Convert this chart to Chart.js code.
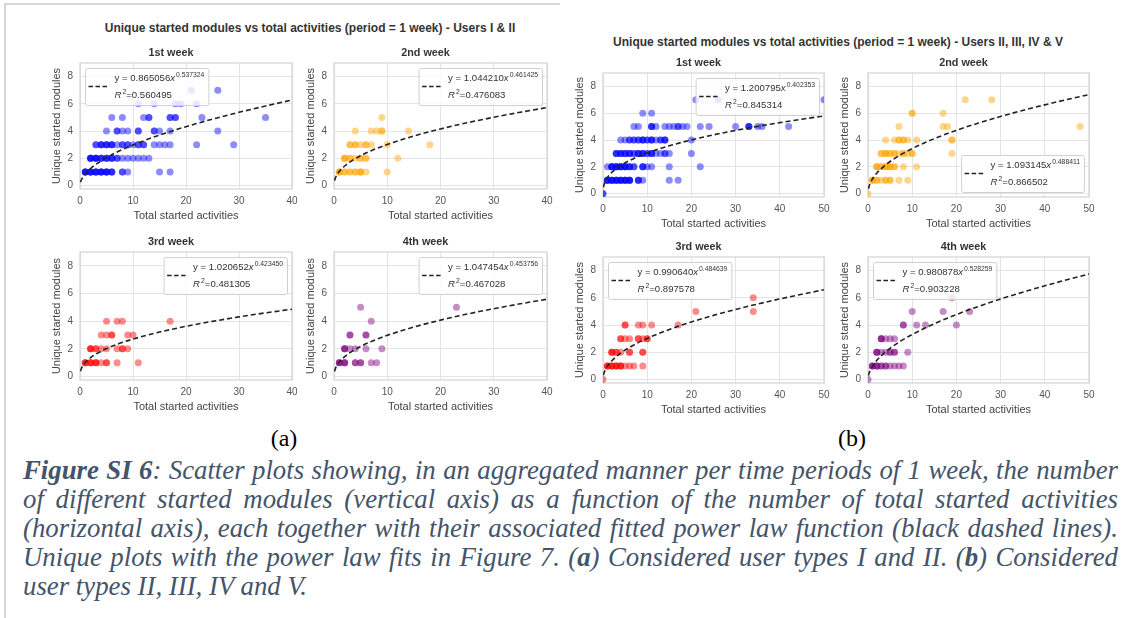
<!DOCTYPE html>
<html>
<head>
<meta charset="utf-8">
<script src="https://cdn.jsdelivr.net/npm/chart.js@4.4.1/dist/chart.umd.min.js"></script>
<style>
  body { margin: 0; width: 1132px; height: 618px; background: #fff; position: relative; overflow: hidden; font-family: 'Liberation Sans', Arial, sans-serif; }
  .frame { position: absolute; left: 4px; top: 3px; width: 554px; height: 640px; border-left: 2px solid #d6d6d6; border-top: 2px solid #d6d6d6; }
  .suptitle { position: absolute; font-weight: bold; font-size: 12px; color: #333; white-space: nowrap; transform: translateX(-50%); }
  canvas { position: absolute; }
  .plabel { position: absolute; font-family: 'Liberation Serif', serif; font-size: 24px; line-height: 28px; color: #000; transform: translateX(-50%); }
  .caption { position: absolute; left: 23px; top: 456px; width: 1095px; font-family: 'Liberation Serif', serif; font-style: italic; font-size: 26.8px; line-height: 29px; color: #44546a; }
  .caption div { white-space: nowrap; text-align: justify; text-align-last: justify; }
  .caption div.last { text-align: left; text-align-last: left; }
</style>
</head>
<body>
<div class="frame"></div>
<div class="suptitle" style="left:310px; top:21px;">Unique started modules vs total activities (period = 1 week) - Users I &amp; II</div>
<div class="suptitle" style="left:838px; top:35px;">Unique started modules vs total activities (period = 1 week) - Users II, III, IV &amp; V</div>
<div class="plabel" style="left:284px; top:424px;">(a)</div>
<div class="plabel" style="left:852px; top:424px;">(b)</div>
<div class="caption">
  <div><b>Figure SI 6</b>: Scatter plots showing, in an aggregated manner per time periods of 1 week, the number</div>
  <div>of different started modules (vertical axis) as a function of the number of total started activities</div>
  <div>(horizontal axis), each together with their associated fitted power law function (black dashed lines).</div>
  <div>Unique plots with the power law fits in Figure 7. (<b>a</b>) Considered user types I and II. (<b>b</b>) Considered</div>
  <div class="last">user types II, III, IV and V.</div>
</div>
<script>
Chart.defaults.font.family = "'Liberation Sans', Arial, sans-serif";

const weekTitles = ['1st week', '2nd week', '3rd week', '4th week'];
const yTicks = [0, 2, 4, 6, 8];
const xTicksA = [0, 10, 20, 30, 40];
const xTicksB = [0, 10, 20, 30, 40, 50];

// [total started activities, unique started modules, users at that spot]
const ptsA1 = [
  [21,7,1],[26,7,1],
  [11,6,1],[14,6,1],[18,6,1],[19,6,1],[22,6,1],
  [6,5,1],[8,5,1],[12,5,1],[13,5,2],[17,5,2],[18,5,2],[23,5,1],[35,5,1],
  [5,4,1],[7,4,2],[8,4,1],[9,4,1],[11,4,2],[14,4,2],[15,4,1],[17,4,1],[26,4,1],
  [3,3,2],[4,3,3],[5,3,3],[6,3,3],[7,3,1],[8,3,2],[9,3,2],[10,3,1],[11,3,2],[12,3,2],[14,3,1],[15,3,1],[16,3,1],[17,3,1],[22,3,1],[29,3,1],
  [2,2,4],[3,2,4],[4,2,3],[5,2,3],[6,2,3],[7,2,2],[8,2,1],[9,2,1],[10,2,1],[11,2,1],[12,2,1],[13,2,1],
  [1,1,4],[2,1,4],[3,1,4],[4,1,4],[5,1,4],[6,1,3],[8,1,2],[9,1,1],[15,1,1],[17,1,1]
];
const ptsA2 = [
  [9,5,1],
  [4,4,1],[7,4,1],[8,4,1],[9,4,2],[14,4,1],
  [3,3,2],[4,3,2],[5,3,1],[6,3,2],[7,3,1],[10,3,1],[18,3,1],
  [2,2,3],[3,2,2],[4,2,1],[5,2,2],[6,2,2],[12,2,1],
  [1,1,3],[2,1,2],[3,1,2],[4,1,2],[5,1,3],[6,1,1],[10,1,1]
];
const ptsA3 = [
  [5,4,1],[7,4,1],[8,4,1],[17,4,1],
  [4,3,1],[5,3,1],[6,3,2],[9,3,1],[10,3,1],
  [2,2,3],[3,2,2],[4,2,1],[5,2,1],[7,2,1],[8,2,2],[9,2,1],
  [1,1,3],[2,1,3],[3,1,3],[4,1,1],[5,1,2],[7,1,1],[11,1,1]
];
const ptsA4 = [
  [5,5,1],[23,5,1],[7,4,1],
  [3,3,2],[6,3,2],
  [2,2,3],[3,2,1],[4,2,1],[6,2,1],[9,2,1],
  [1,1,3],[2,1,3],[4,1,2],[5,1,2],[7,1,1],[8,1,1]
];
const ptsB1 = [
  [21,7,1],[26,7,1],[50,7,1],
  [9,6,1],[11,6,1],
  [7,5,1],[8,5,1],[11,5,3],[12,5,1],[14,5,1],[15,5,1],[16,5,1],[17,5,2],[18,5,1],[19,5,1],[22,5,1],[24,5,1],[30,5,1],[33,5,3],[35,5,1],[36,5,1],[42,5,1],
  [4,4,1],[5,4,1],[6,4,2],[7,4,2],[8,4,2],[9,4,3],[10,4,2],[11,4,3],[12,4,1],[13,4,2],[14,4,3],[20,4,1],
  [3,3,3],[4,3,3],[5,3,3],[6,3,3],[7,3,2],[8,3,3],[9,3,3],[10,3,2],[11,3,3],[12,3,1],[13,3,1],[14,3,2],[15,3,1],[20,3,1],
  [1,2,1],[2,2,4],[3,2,4],[4,2,4],[5,2,4],[6,2,3],[7,2,2],[9,2,3],[10,2,1],[11,2,1],[15,2,1],[22,2,1],
  [1,1,4],[2,1,4],[3,1,4],[4,1,4],[5,1,4],[6,1,4],[8,1,3],[9,1,1],[15,1,1],[17,1,1],
  [0,0,2]
];
const ptsB2 = [
  [22,7,1],[28,7,1],
  [10,6,2],[17,6,1],
  [7,5,1],[17,5,1],[18,5,1],[48,5,1],
  [4,4,1],[6,4,1],[7,4,2],[8,4,2],[9,4,1],[11,4,1],[19,4,2],
  [3,3,2],[4,3,3],[5,3,2],[6,3,2],[7,3,1],[8,3,2],[9,3,1],[10,3,2],[19,3,1],
  [2,2,3],[3,2,2],[4,2,3],[5,2,3],[6,2,2],[8,2,1],[11,2,1],
  [1,1,3],[2,1,2],[3,1,1],[4,1,2],[5,1,2],[7,1,1],[9,1,1],
  [0,0,1]
];
const ptsB3 = [
  [34,6,1],[21,5,1],[34,5,1],
  [5,4,2],[8,4,1],[9,4,1],[11,4,1],[17,4,1],
  [4,3,2],[5,3,1],[6,3,1],[8,3,2],[9,3,1],[10,3,2],
  [2,2,3],[3,2,2],[4,2,1],[6,2,2],[9,2,2],
  [1,1,3],[2,1,3],[3,1,3],[4,1,3],[5,1,1],[6,1,1],[7,1,1],[9,1,1],
  [0,0,1]
];
const ptsB4 = [
  [19,6,1],[10,5,1],[17,5,1],[23,5,1],
  [8,4,2],[11,4,1],[13,4,1],[20,4,1],
  [3,3,3],[4,3,1],[5,3,1],[6,3,1],
  [2,2,3],[3,2,1],[4,2,1],[5,2,2],[6,2,2],[9,2,1],
  [1,1,3],[2,1,3],[3,1,2],[4,1,2],[5,1,1],[6,1,1],[7,1,1],[8,1,1],
  [0,0,1]
];

// fitted power-law curves
const fitXA = [0.1, 0.25, 0.5, 1, 2, 4, 7, 10, 15, 20, 25, 30, 35, 40];
const fitXB = [0.1, 0.25, 0.5, 1, 2, 4, 7, 10, 15, 20, 25, 30, 35, 40, 45, 50];
const fitA1 = [0.251, 0.411, 0.596, 0.865, 1.255, 1.822, 2.461, 2.981, 3.707, 4.326, 4.877, 5.379, 5.844, 6.279];
const fitA2 = [0.361, 0.551, 0.758, 1.044, 1.438, 1.980, 2.563, 3.021, 3.643, 4.160, 4.612, 5.016, 5.386, 5.728];
const fitA3 = [0.385, 0.567, 0.761, 1.021, 1.369, 1.836, 2.327, 2.706, 3.213, 3.629, 3.989, 4.309, 4.600, 4.867];
const fitA4 = [0.368, 0.558, 0.765, 1.047, 1.435, 1.965, 2.533, 2.978, 3.579, 4.078, 4.513, 4.902, 5.258, 5.586];
const fitB1 = [0.476, 0.687, 0.909, 1.201, 1.587, 2.098, 2.627, 3.033, 3.570, 4.008, 4.385, 4.718, 5.020, 5.297, 5.554, 5.795];
const fitB2 = [0.355, 0.555, 0.779, 1.093, 1.534, 2.152, 2.828, 3.366, 4.103, 4.722, 5.266, 5.756, 6.206, 6.624, 7.017, 7.387];
const fitB3 = [0.325, 0.506, 0.708, 0.991, 1.386, 1.939, 2.544, 3.024, 3.681, 4.231, 4.714, 5.150, 5.549, 5.920, 6.268, 6.596];
const fitB4 = [0.291, 0.472, 0.680, 0.981, 1.415, 2.040, 2.742, 3.310, 4.101, 4.774, 5.371, 5.915, 6.416, 6.885, 7.327, 7.747];

const fitCoef = ['0.865056', '1.044210', '1.020652', '1.047454', '1.200795', '1.093145', '0.990640', '0.980878'];
const fitExpo = ['0.537324', '0.461425', '0.423450', '0.453756', '0.402353', '0.488411', '0.484639', '0.528259'];
const fitR2 = ['0.560495', '0.476083', '0.481305', '0.467028', '0.845314', '0.866502', '0.897578', '0.903228'];

const BLUE = 'rgba(0,0,255,0.45)';
const ORANGE = 'rgba(255,165,0,0.45)';
const RED = 'rgba(255,0,0,0.45)';
const PURPLE = 'rgba(128,0,128,0.45)';

const panels = [
  { box: [80, 63, 292, 189],   title: 0, pts: ptsA1, fx: fitXA, fy: fitA1, color: BLUE,   xMax: 40, xt: xTicksA, leg: 'ul' },
  { box: [334, 63, 547, 189],  title: 1, pts: ptsA2, fx: fitXA, fy: fitA2, color: ORANGE, xMax: 40, xt: xTicksA, leg: 'ur' },
  { box: [80, 252, 292, 380],  title: 2, pts: ptsA3, fx: fitXA, fy: fitA3, color: RED,    xMax: 40, xt: xTicksA, leg: 'ur' },
  { box: [334, 252, 547, 380], title: 3, pts: ptsA4, fx: fitXA, fy: fitA4, color: PURPLE, xMax: 40, xt: xTicksA, leg: 'ur' },
  { box: [603, 73, 824, 197],  title: 0, pts: ptsB1, fx: fitXB, fy: fitB1, color: BLUE,   xMax: 50, xt: xTicksB, leg: 'ur' },
  { box: [868, 73, 1089, 197], title: 1, pts: ptsB2, fx: fitXB, fy: fitB2, color: ORANGE, xMax: 50, xt: xTicksB, leg: 'lr' },
  { box: [603, 257, 824, 383], title: 2, pts: ptsB3, fx: fitXB, fy: fitB3, color: RED,    xMax: 50, xt: xTicksB, leg: 'ul' },
  { box: [868, 257, 1089, 383], title: 3, pts: ptsB4, fx: fitXB, fy: fitB4, color: PURPLE, xMax: 50, xt: xTicksB, leg: 'ul' }
];

function expand(pts) {
  const out = [];
  pts.forEach(([x, y, n]) => {
    for (let i = 0; i < n; i++) out.push({ x, y });
  });
  return out;
}

const framePlugin = {
  id: 'frame',
  beforeDatasetsDraw(chart) {
    const { ctx, chartArea: a } = chart;
    ctx.save();
    ctx.strokeStyle = '#d4d4d4';
    ctx.lineWidth = 1.2;
    ctx.strokeRect(a.left, a.top, a.width, a.height);
    ctx.restore();
  }
};

const FONT = "'Liberation Sans', Arial, sans-serif";

// matplotlib-like legend box with the fitted equation and R^2
const fitLegend = {
  id: 'fitLegend',
  afterDatasetsDraw(chart, args, opts) {
    const { ctx, chartArea: a } = chart;
    const fs = 9.6, ss = 6.8;
    ctx.save();
    ctx.font = `${fs}px ${FONT}`;
    const wA = ctx.measureText('y = ' + opts.coef).width;
    const wEq = ctx.measureText('=' + opts.r2).width;
    ctx.font = `italic ${fs}px ${FONT}`;
    const wX = ctx.measureText('x').width;
    const wR = ctx.measureText('R').width;
    ctx.font = `${ss}px ${FONT}`;
    const wE = ctx.measureText(opts.expo).width;
    const w2 = ctx.measureText('2').width;
    const textW = Math.max(wA + wX + 1 + wE, wR + 1 + w2 + wEq);

    const pad = 3.5, handle = 19, gap = 7;
    const bw = pad + handle + gap + textW + 4;
    const bh = 37;
    const bx = opts.pos[1] === 'l' ? a.left + 5 : a.right - 5 - bw;
    const by = opts.pos[0] === 'u' ? a.top + 5 : a.bottom - 5 - bh;

    ctx.beginPath();
    ctx.roundRect(bx + 0.5, by + 0.5, bw, bh, 2);
    ctx.fillStyle = 'rgba(255,255,255,0.8)';
    ctx.fill();
    ctx.strokeStyle = '#d0d0d0';
    ctx.lineWidth = 1;
    ctx.stroke();

    ctx.beginPath();
    ctx.setLineDash([4.5, 2.5]);
    ctx.strokeStyle = '#222';
    ctx.lineWidth = 1.6;
    ctx.moveTo(bx + pad, by + bh / 2);
    ctx.lineTo(bx + pad + handle, by + bh / 2);
    ctx.stroke();
    ctx.setLineDash([]);

    const tx = bx + pad + handle + gap;
    const b1 = by + 13, b2 = by + 30;
    ctx.fillStyle = '#333';
    ctx.textBaseline = 'alphabetic';
    ctx.textAlign = 'left';
    ctx.font = `${fs}px ${FONT}`;
    ctx.fillText('y = ' + opts.coef, tx, b1);
    ctx.font = `italic ${fs}px ${FONT}`;
    ctx.fillText('x', tx + wA, b1);
    ctx.font = `${ss}px ${FONT}`;
    ctx.fillText(opts.expo, tx + wA + wX + 1, b1 - 4);

    ctx.font = `italic ${fs}px ${FONT}`;
    ctx.fillText('R', tx, b2);
    ctx.font = `${ss}px ${FONT}`;
    ctx.fillText('2', tx + wR + 1, b2 - 4);
    ctx.font = `${fs}px ${FONT}`;
    ctx.fillText('=' + opts.r2, tx + wR + 1 + w2, b2);
    ctx.restore();
  }
};

const yW = 30, xH = 34, titleH = 19, padR = 12;

panels.forEach((p, i) => {
  const [L, T, R, B] = p.box;
  const cv = document.createElement('canvas');
  cv.width = R - L + yW + padR;
  cv.height = B - T + titleH + xH;
  cv.style.left = (L - yW) + 'px';
  cv.style.top = (T - titleH) + 'px';
  document.body.appendChild(cv);

  new Chart(cv, {
    type: 'scatter',
    data: {
      datasets: [
        {
          data: p.fx.map((x, k) => ({ x, y: p.fy[k] })),
          showLine: true,
          borderColor: '#222',
          borderWidth: 1.6,
          borderDash: [5, 3],
          pointRadius: 0,
          cubicInterpolationMode: 'monotone',
          order: 0,
          clip: 0
        },
        {
          data: expand(p.pts),
          pointBackgroundColor: p.color,
          pointBorderWidth: 0,
          pointRadius: 3.5,
          order: 1,
          clip: 0
        }
      ]
    },
    options: {
      responsive: false,
      animation: false,
      devicePixelRatio: 1,
      events: [],
      layout: { padding: { left: 0, right: padR, top: 0, bottom: 0 } },
      plugins: {
        legend: { display: false },
        tooltip: { enabled: false },
        title: {
          display: true,
          text: weekTitles[p.title],
          color: '#333',
          font: { size: 10.8, weight: 'bold', lineHeight: '12px' },
          padding: { top: 3, bottom: 4 }
        },
        fitLegend: { coef: fitCoef[i], expo: fitExpo[i], r2: fitR2[i], pos: p.leg }
      },
      scales: {
        x: {
          type: 'linear',
          min: 0,
          max: p.xMax,
          afterBuildTicks: s => { s.ticks = p.xt.map(v => ({ value: v })); },
          afterFit: s => { s.height = xH; },
          grid: { color: '#e4e4e4', drawTicks: false },
          border: { display: false },
          ticks: { padding: 6, color: '#555', font: { size: 10 } },
          title: { display: true, text: 'Total started activities', color: '#444', font: { size: 11 }, padding: { top: 0, bottom: 0 } }
        },
        y: {
          type: 'linear',
          min: -0.25,
          max: 9,
          afterBuildTicks: s => { s.ticks = yTicks.map(v => ({ value: v })); },
          afterFit: s => { s.width = yW; },
          grid: { color: '#e4e4e4', drawTicks: false },
          border: { display: false },
          ticks: { padding: 7, color: '#555', font: { size: 10 } },
          title: { display: true, text: 'Unique started modules', color: '#444', font: { size: 11 }, padding: { top: 0, bottom: 0 } }
        }
      }
    },
    plugins: [framePlugin, fitLegend]
  });
});
</script>
</body>
</html>
